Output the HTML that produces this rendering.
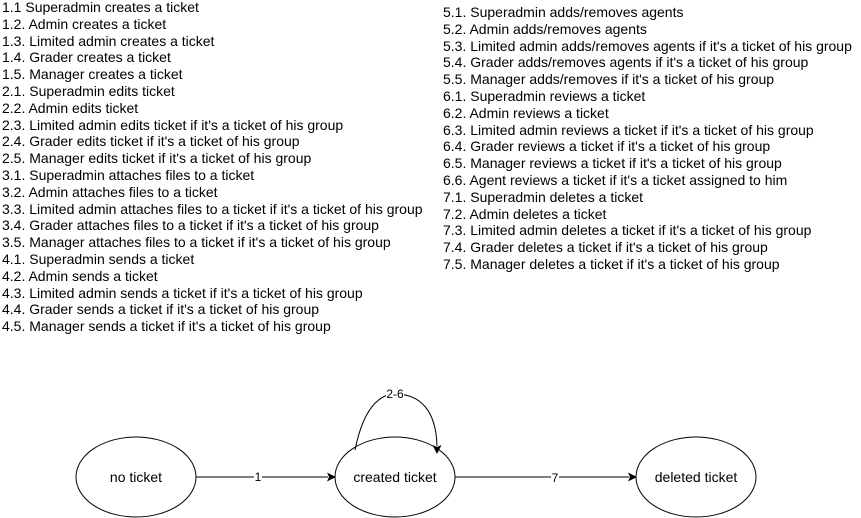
<!DOCTYPE html>
<html><head><meta charset="utf-8"><style>
body{margin:0;width:861px;height:518px;background:#fff;overflow:hidden;position:relative;font-family:"Liberation Sans",Arial,sans-serif;}
.col{position:absolute;font-size:14px;line-height:16.8px;color:#000;white-space:nowrap;}
svg{position:absolute;left:0;top:0;}
</style></head><body>
<div class="col" style="left:2px;top:-1px">
1.1 Superadmin creates a ticket<br>1.2. Admin creates a ticket<br>1.3. Limited admin creates a ticket<br>1.4. Grader creates a ticket<br>1.5. Manager creates a ticket<br>2.1. Superadmin edits ticket<br>2.2. Admin edits ticket<br>2.3. Limited admin edits ticket if it's a ticket of his group<br>2.4. Grader edits ticket if it's a ticket of his group<br>2.5. Manager edits ticket if it's a ticket of his group<br>3.1. Superadmin attaches files to a ticket<br>3.2. Admin attaches files to a ticket<br>3.3. Limited admin attaches files to a ticket if it's a ticket of his group<br>3.4. Grader attaches files to a ticket if it's a ticket of his group<br>3.5. Manager attaches files to a ticket if it's a ticket of his group<br>4.1. Superadmin sends a ticket<br>4.2. Admin sends a ticket<br>4.3. Limited admin sends a ticket if it's a ticket of his group<br>4.4. Grader sends a ticket if it's a ticket of his group<br>4.5. Manager sends a ticket if it's a ticket of his group
</div>
<div class="col" style="left:443px;top:4px">
5.1. Superadmin adds/removes agents<br>5.2. Admin adds/removes agents<br>5.3. Limited admin adds/removes agents if it's a ticket of his group<br>5.4. Grader adds/removes agents if it's a ticket of his group<br>5.5. Manager adds/removes if it's a ticket of his group<br>6.1. Superadmin reviews a ticket<br>6.2. Admin reviews a ticket<br>6.3. Limited admin reviews a ticket if it's a ticket of his group<br>6.4. Grader reviews a ticket if it's a ticket of his group<br>6.5. Manager reviews a ticket if it's a ticket of his group<br>6.6. Agent reviews a ticket if it's a ticket assigned to him<br>7.1. Superadmin deletes a ticket<br>7.2. Admin deletes a ticket<br>7.3. Limited admin deletes a ticket if it's a ticket of his group<br>7.4. Grader deletes a ticket if it's a ticket of his group<br>7.5. Manager deletes a ticket if it's a ticket of his group
</div>
<svg width="861" height="518" font-family="Liberation Sans, Arial, sans-serif" font-size="14">
<g fill="#fff" stroke="#000" stroke-width="1">
<ellipse cx="136" cy="477" rx="60" ry="40"/>
<ellipse cx="395" cy="477" rx="60" ry="40"/>
<ellipse cx="696" cy="477" rx="60" ry="40"/>
</g>
<g stroke="#000" fill="none">
<line x1="196" y1="477" x2="328" y2="477"/>
<line x1="455" y1="477" x2="629" y2="477"/>
<path d="M355 450 C365 400 385 394 395 394 C420 394 436 410 437 446"/>
</g>
<g fill="#000">
<path d="M336 477 L327 472.5 L329 477 L327 481.5Z"/>
<path d="M637 477 L628 472.5 L630 477 L628 481.5Z"/>
<path d="M437 454 L432.5 445 L437 447 L441.5 445Z"/>
</g>
<g text-anchor="middle" font-size="12">
<rect x="254" y="470" width="8" height="14" fill="#fff"/>
<text x="258" y="481">1</text>
<rect x="551" y="470" width="8" height="14" fill="#fff"/>
<text x="555" y="482">7</text>
<rect x="386" y="388" width="18" height="12" fill="#fff"/>
<text x="395" y="398">2-6</text>
</g>
<g text-anchor="middle">
<text x="136" y="482">no ticket</text>
<text x="395" y="482">created ticket</text>
<text x="696" y="482">deleted ticket</text>
</g>
</svg>
</body></html>
